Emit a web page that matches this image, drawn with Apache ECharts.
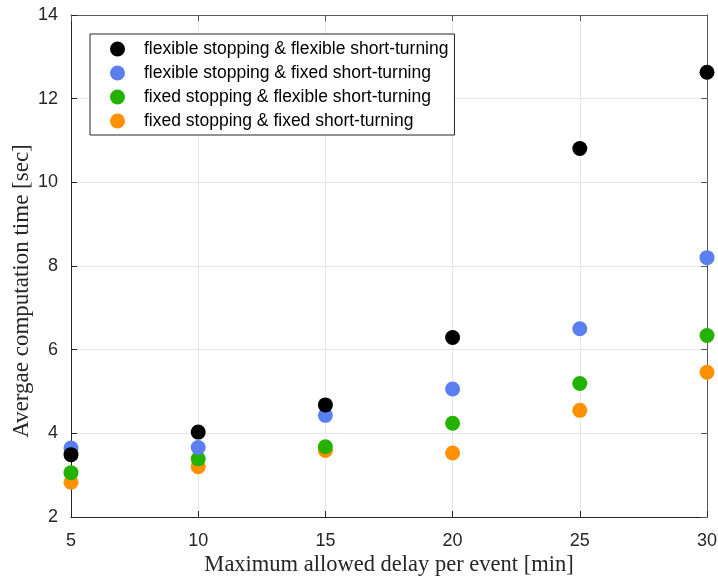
<!DOCTYPE html>
<html><head><meta charset="utf-8">
<script src="https://cdn.jsdelivr.net/npm/echarts@6/dist/echarts.min.js"></script>
<style>html,body{margin:0;padding:0;background:#fff}#c{width:718px;height:577px}</style>
</head><body><div id="c"></div>
<script>
const delays = [5, 10, 15, 20, 25, 30];
const seriesNames = [
  'flexible stopping & flexible short-turning',
  'flexible stopping & fixed short-turning',
  'fixed stopping & flexible short-turning',
  'fixed stopping & fixed short-turning'
];
const flexFlex = [3.49, 4.03, 4.68, 6.29, 10.81, 12.63];
const flexFixed = [3.65, 3.66, 4.43, 5.06, 6.50, 8.20];
const fixedFlex = [3.06, 3.39, 3.68, 4.24, 5.19, 6.34];
const fixedFixed = [2.83, 3.20, 3.59, 3.53, 4.55, 5.46];
const colors = ['#000000', '#5a7ff0', '#23b200', '#ff9100'];
const allValues = [flexFlex, flexFixed, fixedFlex, fixedFixed];

const chart = echarts.init(document.getElementById('c'));
const axisLineStyle = {color: '#262626', width: 1};
const boxLineStyle = {color: '#5a5a5a', width: 1};
const sansFont = 'Liberation Sans, Arial, sans-serif';
const serifFont = 'Liberation Serif, DejaVu Serif, serif';
chart.setOption({
  animation: false,
  backgroundColor: '#fff',
  grid: {left: 71, right: 11, top: 15, bottom: 60, containLabel: false, outerBoundsMode: 'none'},
  legend: {
    orient: 'vertical', left: 90, top: 34,
    data: seriesNames,
    icon: 'circle', itemWidth: 15, itemHeight: 15, itemGap: 6,
    borderColor: '#262626', borderWidth: 1, backgroundColor: '#fff',
    padding: [6, 6, 5, 20],
    textStyle: {fontFamily: sansFont, fontSize: 17.5, lineHeight: 18, color: '#000', padding: [0, 0, 0, 14]}
  },
  xAxis: [{
    type: 'value', min: 5, max: 30, interval: 5,
    name: 'Maximum allowed delay per event [min]', nameLocation: 'middle', nameGap: 37,
    nameMoveOverlap: false,
    nameTextStyle: {fontFamily: serifFont, fontSize: 22.5, color: '#262626'},
    axisLine: {show: true, lineStyle: axisLineStyle},
    axisTick: {show: true, inside: true, length: 6, lineStyle: axisLineStyle},
    axisLabel: {fontFamily: sansFont, fontSize: 18, color: '#262626', margin: 15},
    splitLine: {show: true, lineStyle: {color: '#e6e6e6'}}
  }, {
    type: 'value', min: 5, max: 30, interval: 5, position: 'top',
    axisLine: {show: true, lineStyle: boxLineStyle},
    axisTick: {show: true, inside: true, length: 6, lineStyle: boxLineStyle},
    axisLabel: {show: false}, splitLine: {show: false}
  }],
  yAxis: [{
    type: 'value', min: 2, max: 14, interval: 2,
    name: 'Avergae computation time [sec]', nameLocation: 'middle', nameGap: 38,
    nameMoveOverlap: false,
    nameTextStyle: {fontFamily: serifFont, fontSize: 23, color: '#262626', padding: [0, 50, 0, 0]},
    axisLine: {show: true, lineStyle: axisLineStyle},
    axisTick: {show: true, inside: true, length: 6, lineStyle: axisLineStyle},
    axisLabel: {fontFamily: sansFont, fontSize: 18, color: '#262626', margin: 13},
    splitLine: {show: true, lineStyle: {color: '#e6e6e6'}}
  }, {
    type: 'value', min: 2, max: 14, interval: 2, position: 'right',
    axisLine: {show: true, lineStyle: boxLineStyle},
    axisTick: {show: true, inside: true, length: 6, lineStyle: boxLineStyle},
    axisLabel: {show: false}, splitLine: {show: false}
  }],
  series: seriesNames.map((name, i) => ({
    name: name, type: 'scatter', symbol: 'circle', symbolSize: 15,
    itemStyle: {color: colors[i], opacity: 1},
    z: 10 - i,
    clip: false,
    data: delays.map((d, j) => [d, allValues[i][j]])
  }))
});
</script></body></html>
